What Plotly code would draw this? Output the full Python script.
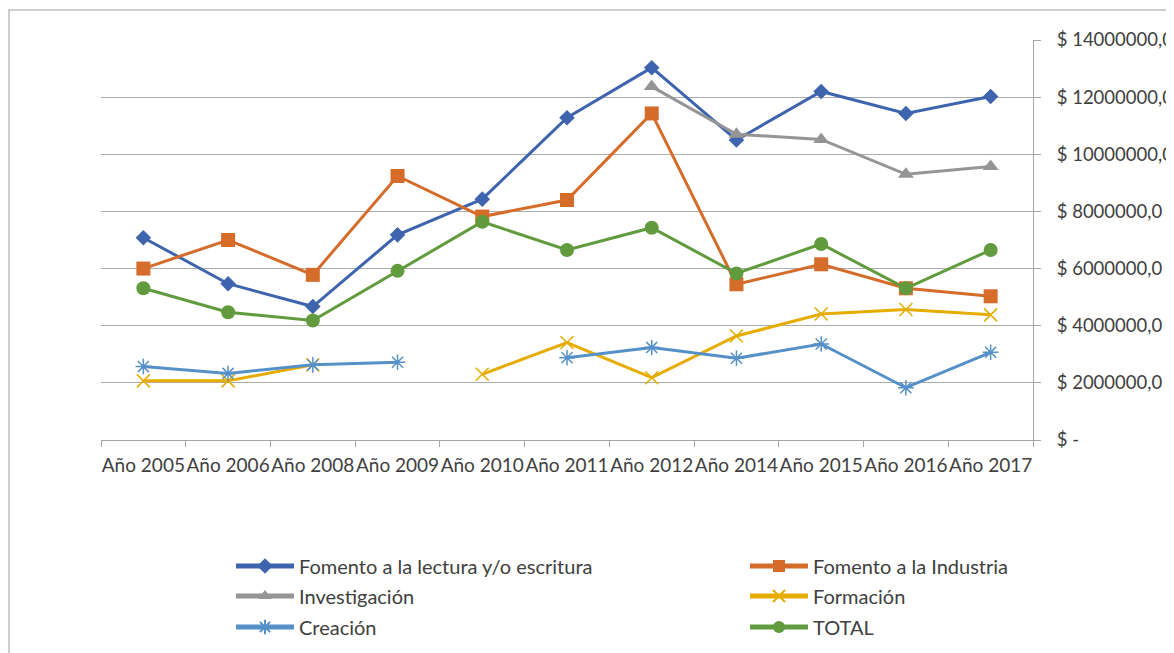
import plotly.graph_objects as go

years = ["Año 2005", "Año 2006", "Año 2008", "Año 2009", "Año 2010", "Año 2011",
         "Año 2012", "Año 2014", "Año 2015", "Año 2016", "Año 2017"]

fomento_lectura = [7080000, 5470000, 4670000, 7180000, 8430000, 11280000,
                   13030000, 10500000, 12200000, 11430000, 12020000]
fomento_industria = [6000000, 7000000, 5780000, 9240000, 7820000, 8400000,
                     11430000, 5450000, 6150000, 5310000, 5030000]
investigacion = [None, None, None, None, None, None,
                 12370000, 10700000, 10520000, 9300000, 9570000]
formacion = [2070000, 2070000, 2630000, None, 2300000, 3410000,
             2180000, 3640000, 4410000, 4570000, 4380000]
creacion = [2570000, 2330000, 2630000, 2720000, None, 2880000,
            3240000, 2860000, 3360000, 1830000, 3070000]
total = [5310000, 4470000, 4180000, 5920000, 7640000, 6650000,
         7430000, 5830000, 6860000, 5310000, 6650000]

series_names = ["Fomento a la lectura y/o escritura", "Fomento a la Industria",
                "Investigación", "Formación", "Creación", "TOTAL"]
series_values = [fomento_lectura, fomento_industria, investigacion, formacion, creacion, total]

y_tickvals = [0, 2000000, 4000000, 6000000, 8000000, 10000000, 12000000, 14000000]
y_ticktext = ["$ -", "$ 2000000,0", "$ 4000000,0", "$ 6000000,0", "$ 8000000,0",
              "$ 10000000,0", "$ 12000000,0", "$ 14000000,0"]

colors = ["#3E64AE", "#D56C2A", "#959595", "#E6AC00", "#5590C8", "#629B3D"]
symbols = ["diamond", "square", "triangle-up", "x-thin-open", "asterisk-open", "circle"]
msizes = [12, 14, 14, 13, 13, 14]

FONT = "Lato, sans-serif"
TXT = "#404040"
FS = 19

# page has an 8px body margin; target plot area in page pixels: x 101..1033, y 40..440
OFF = 8
W, H = 1174 - OFF, 653 - OFF
PL, PR, PT, PB = 101, 1033, 40, 440
pw, ph = PR - PL, PB - PT
L, R, T, B = PL - OFF, PR - OFF, PT - OFF, PB - OFF

def px_x(p):
    return (p - PL) / pw

def px_y(p):
    return (PB - p) / ph

fig = go.Figure()

legend_pos = [(231, 566), (745, 566), (231, 596), (745, 596), (231, 627), (745, 627)]
legend_keys = ["legend", "legend2", "legend3", "legend4", "legend5", "legend6"]

for i, (name, vals) in enumerate(zip(series_names, series_values)):
    mline = dict(width=1.5, color=colors[i]) if "open" in symbols[i] else dict(width=0)
    fig.add_trace(go.Scatter(
        x=years, y=vals, name=name, mode="lines+markers",
        line=dict(color=colors[i], width=3),
        marker=dict(symbol=symbols[i], size=msizes[i], color=colors[i], line=mline),
        connectgaps=False,
        legend=legend_keys[i],
    ))

layout_legends = {}
for key, (lx, ly) in zip(legend_keys, legend_pos):
    layout_legends[key] = dict(
        x=px_x(lx), y=px_y(ly), xanchor="left", yanchor="middle",
        orientation="h", bgcolor="rgba(0,0,0,0)", itemwidth=58,
        itemsizing="constant",
        font=dict(family=FONT, size=FS + 1, color=TXT),
    )

fig.update_layout(
    width=W, height=H,
    margin=dict(l=L, r=W - R, t=T, b=H - B, autoexpand=False),
    plot_bgcolor="white", paper_bgcolor="white",
    font=dict(family=FONT, size=FS, color=TXT),
    showlegend=True,
    **layout_legends,
)

fig.update_xaxes(
    type="category", categoryorder="array", categoryarray=years,
    showgrid=False, showline=True, linecolor="#A6A6A6", linewidth=1,
    ticks="outside", tickson="boundaries", ticklen=6, tickcolor="#A6A6A6",
    tickfont=dict(family=FONT, size=FS, color=TXT), tickangle=0,
    ticklabelstandoff=8, range=[-0.5, len(years) - 0.5], fixedrange=True,
    automargin=False,
)
fig.update_yaxes(
    side="right", range=[0, 14000000], tickvals=y_tickvals, ticktext=y_ticktext,
    showgrid=True, gridcolor="#ADADAD", gridwidth=1,
    showline=True, linecolor="#A6A6A6", linewidth=1,
    ticks="outside", ticklen=7, tickcolor="#A6A6A6",
    tickfont=dict(family=FONT, size=18.5, color=TXT),
    ticklabelstandoff=12, zeroline=False, fixedrange=True,
    automargin=False,
)

# outer chart border
fig.add_shape(type="rect", xref="paper", yref="paper",
              x0=px_x(9), x1=px_x(1200), y0=px_y(680), y1=px_y(10),
              line=dict(color="#BFBFBF", width=1.5), fillcolor="rgba(0,0,0,0)", layer="below")

fig.write_html("out.html")
